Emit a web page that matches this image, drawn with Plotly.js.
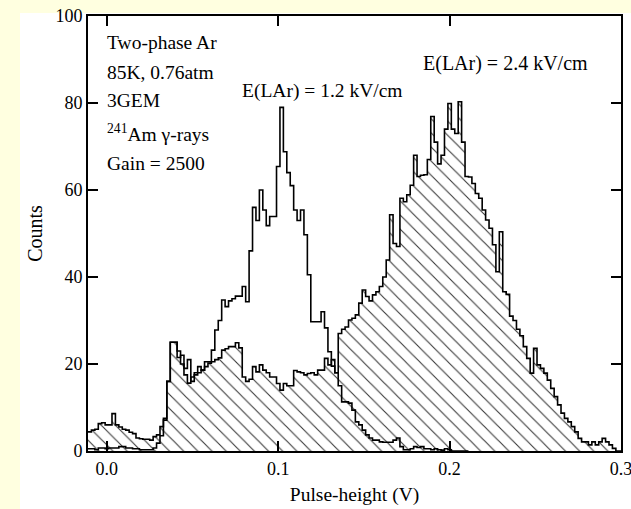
<!DOCTYPE html>
<html>
<head>
<meta charset="utf-8">
<script src="https://cdn.plot.ly/plotly-3.0.1.min.js"></script>
<style>
  html, body { margin: 0; padding: 0; background: #FFFFE0; width: 631px; height: 509px; overflow: hidden; }
  #chart { position: absolute; left: 0; top: 0; width: 631px; height: 509px; }
</style>
</head>
<body>
<div id="chart"></div>
<script>
// Pulse-height histograms, bins of 2 mV starting at -0.011 V
const binStart = -0.011;
const binWidth = 0.002;

// E(LAr) = 1.2 kV/cm (open histogram)
const countsField12 = [
  0.5, 0.5, 0.3, 0.7, 0.7, 0.5, 0.7, 0.7, 0.7, 1.0, 1.0, 0.7, 0.7, 0.5, 0.5, 0.3, 0.3, 0.3, 0.3, 0.7,
  1.8, 3.5, 7.5, 16,
  25, 25, 21.5, 22, 19, 21, 16, 17.5, 19.4, 18.6, 20.5, 20.5, 23.2, 27.8, 30, 34.7, 33.2, 34.5, 35, 35.6, 35.6, 37.8, 34.3, 46,
  56, 53, 60, 55.4, 51.8, 53.9, 53.9, 65.4, 79, 68.8, 64, 61, 55.4, 53, 55.4, 49.7, 40.5,
  29.7, 29.7, 29.7, 32, 28.3, 22.8, 19.5, 18, 15, 11.3, 11.3, 11, 9.4, 6.7, 6.0, 4.8, 3.7, 3, 2.5, 2.5, 2.1, 2.0, 2.0, 2.0, 2.5, 3.0,
  1.0, 0.3, 0.3, 0.5, 1.0, 0.8, 1.0, 0.5, 0.5, 0.3, 0.5, 0.3, 0.2, 0.5, 0.3, 0, 0, 0, 0, 0
];

// E(LAr) = 2.4 kV/cm (hatched histogram)
const countsField24 = [
  4.4, 4.8, 5.0, 6.3, 6.5, 6.0, 6.0, 8.6, 6.0, 5.5, 5.0, 4.8, 4.3, 4.0, 3.0, 2.8, 2.7, 2.7, 2.5, 3.3, 3.7, 5.6, 7.1, 16,
  25, 25, 23, 20, 17.5, 15.6, 17, 18, 18, 18.6, 19.4, 20.2, 20.5, 21, 21.4, 23.2, 23.5, 24, 24, 24.9, 23.7, 17, 16, 16.5,
  19.4, 18.2, 19.8, 18.6, 18, 17, 17, 15.5, 14, 15.5, 15, 15, 18.5, 18.2, 18, 17.5, 17.8, 18, 17.5, 18.6, 18.6, 21.3, 19.8, 21,
  18, 27, 28, 28.5, 30.1, 30.5, 31.3, 34, 37, 35.5, 34.5, 35.9, 36.6, 37.8, 40, 43.9, 54.3, 47.7, 47, 58.1, 57.3, 58.9, 61.1, 68,
  63.1, 63.4, 63.5, 67, 76.9, 71, 66, 68, 74, 79.9, 74, 73, 80.3, 71, 63.1, 63, 61.5, 59.2, 58.1, 55.4, 53.1, 51.2, 47.4, 41.2,
  50.4, 36.6, 36, 31, 30, 28, 26.5, 24, 21.3, 17.9, 23.6, 19.8, 19, 17.9, 16.3, 14.4, 12.5, 10.6, 8.7, 7.5, 6.7, 5.6, 4.4, 2.9,
  2.1, 2.1, 1.4, 2.1, 1.4, 2.1, 2.9, 2.1, 1.4, 0.6, 0, 0
];

const xTickVals = [0, 0.1, 0.2, 0.3];
const xTickText = ["0.0", "0.1", "0.2", "0.3"];
const yTickVals = [0, 20, 40, 60, 80, 100];

const infoLines = ["Two-phase Ar", "85K, 0.76atm", "3GEM", "<sup>241</sup>Am γ-rays", "Gain = 2500"];
const fieldLabels = ["E(LAr) = 1.2 kV/cm", "E(LAr) = 2.4 kV/cm"];

// Turn bin counts into a step outline: left edge of each bin, closed at the last edge.
function stepOutline(counts) {
  const x = counts.map((_, i) => binStart + i * binWidth);
  const y = counts.slice();
  x.push(binStart + counts.length * binWidth);
  y.push(0);
  return { x, y };
}

const s24 = stepOutline(countsField24);
const s12 = stepOutline(countsField12);

const serif = "Liberation Serif, Times New Roman, serif";

const traces = [
  {
    type: "scatter", mode: "lines", name: fieldLabels[1],
    x: s24.x, y: s24.y,
    line: { shape: "hv", color: "#000", width: 1.6 },
    fill: "tozeroy",
    fillpattern: { shape: "\\", size: 10, solidity: 0.11, fgcolor: "#3a3a3a", bgcolor: "#ffffff", fillmode: "replace" },
    hoverinfo: "skip"
  },
  {
    type: "scatter", mode: "lines", name: fieldLabels[0],
    x: s12.x, y: s12.y,
    line: { shape: "hv", color: "#000", width: 1.6 },
    hoverinfo: "skip"
  }
];

// Info block in the upper-left corner
const infoY = [0.940, 0.869, 0.805, 0.731, 0.662];
const annotations = infoLines.map((t, i) => ({
  xref: "paper", yref: "paper", x: 0.032, y: infoY[i],
  xanchor: "left", yanchor: "middle", showarrow: false,
  text: t, font: { family: serif, size: 19.5, color: "#000" }
}));
annotations.push({
  xref: "paper", yref: "paper", x: 0.285, y: 0.828, xanchor: "left", yanchor: "middle",
  showarrow: false, text: fieldLabels[0], font: { family: serif, size: 19.5, color: "#000" }
});
annotations.push({
  xref: "paper", yref: "paper", x: 0.625, y: 0.890, xanchor: "left", yanchor: "middle",
  showarrow: false, text: fieldLabels[1], font: { family: serif, size: 20, color: "#000" }
});

const axisCommon = {
  showgrid: false, zeroline: false,
  showline: true, linecolor: "#000", linewidth: 2, mirror: "ticks",
  ticks: "inside", ticklen: 10, tickwidth: 2, tickcolor: "#000",
  ticklabeloverflow: "allow",
  tickfont: { family: serif, size: 18, color: "#000" }
};

const layout = {
  width: 631, height: 509,
  margin: { l: 88, r: 10, t: 16, b: 58 },
  paper_bgcolor: "#FFFFE0", plot_bgcolor: "#ffffff",
  showlegend: false,
  font: { family: serif, color: "#000" },
  // white panel behind the whole figure
  shapes: [{
    type: "rect", xref: "paper", yref: "paper", layer: "below",
    x0: -0.1276, x1: 1.02, y0: -0.14, y1: 1.0069,
    fillcolor: "#ffffff", line: { width: 0 }
  }],
  xaxis: Object.assign({}, axisCommon, {
    range: [-0.011, 0.3], tickvals: xTickVals, ticktext: xTickText,
    title: { text: "Pulse-height (V)", font: { family: serif, size: 19.5 }, standoff: 10 }
  }),
  yaxis: Object.assign({}, axisCommon, {
    range: [0, 100], tickvals: yTickVals,
    title: { text: "Counts", font: { family: serif, size: 20 }, standoff: 7 }
  }),
  annotations: annotations
};

Plotly.newPlot("chart", traces, layout, { displayModeBar: false, staticPlot: true });
</script>
</body>
</html>
